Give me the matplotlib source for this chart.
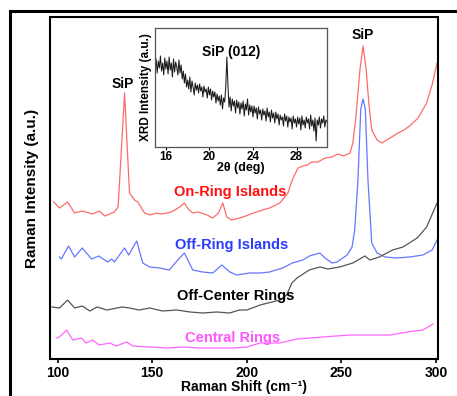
import numpy as np
import matplotlib
matplotlib.use('Agg')
import matplotlib.pyplot as plt
from matplotlib.patches import Rectangle

plt.rcParams['font.family'] = ['Liberation Sans', 'DejaVu Sans']
plt.rcParams['font.weight'] = 'bold'

##########
# Raman  #
##########

# On-Ring Islands (red)
x_on = [98, 101, 105.3, 109, 113, 118.5, 122, 125, 130, 132, 135.4, 138, 140.7, 142.3, 146,
        149, 152.4, 155, 157.7, 160, 162, 164.5, 167, 169, 171.4, 174, 176, 179, 182, 185,
        187.3, 189.4, 192, 198, 205, 212, 217.5, 221.7, 224, 227, 229.6, 232, 234.4, 237.6,
        241.3, 245, 248, 251, 254.5, 256, 257.5, 259.8, 261.4, 263, 264.5, 266, 268.8,
        271.4, 275.7, 279, 283, 286, 290.5, 295, 298, 300.5]
y_on = [157, 151, 157, 146, 148, 145, 148, 143, 147, 152, 266, 166, 159, 157, 146,
        144, 146, 145, 146, 147, 149, 152, 156, 150, 146, 147, 146, 144, 141, 146,
        156, 142, 139, 142, 147, 151, 156, 166, 179, 191, 193, 194, 197, 197,
        201, 202, 205, 203, 206, 216, 240, 290, 313, 290, 255, 229, 219,
        216, 221, 225, 229, 233, 241, 256, 275, 296]

# Off-Ring Islands (blue)
x_off = [101, 102, 105.8, 109, 113, 118, 121.7, 126.5, 128.6, 130, 135.4, 137.6, 141.8,
         145, 148.7, 154, 159, 163.5, 167, 171.4, 176.7, 182, 186.8, 191, 194.7, 201.6,
         207, 212, 219, 224, 229.6, 233, 238.6, 241.3, 245, 247.6, 253, 255.6, 257,
         258.7, 260.2, 261.4, 262.6, 264, 266, 268.8, 273, 279, 286, 293, 297.9, 300.5]
y_off = [102, 100, 113, 102, 111, 100, 103, 97, 100, 97, 111, 104, 118,
         96, 92, 91, 89, 99, 106, 89, 87, 86, 94, 87, 84, 86,
         86, 87, 91, 96, 99, 103, 106, 101, 96, 97, 104, 112, 129,
         179, 250, 260, 250, 179, 116, 106, 102, 101, 102, 104, 109, 119]

# Off-Center Rings (black)
x_oc = [97, 101, 105.3, 109, 113, 117, 121, 126, 134, 138, 143, 148.7, 155.5, 163, 170,
        176.7, 184, 191, 196, 200, 207, 217.5, 221, 223.8, 226.5, 233, 238.6, 242.8, 249,
        256, 262.4, 265, 270, 277, 282.5, 290, 295, 300.5]
y_oc = [52, 51, 59, 51, 53, 48, 52, 49, 52, 51, 49, 51, 48, 49, 47,
        46, 47, 46, 49, 49, 54, 59, 64, 76, 81, 89, 92, 90, 92,
        96, 103, 99, 102, 109, 112, 121, 132, 156]

# Central Rings (magenta)
x_cr = [99.5, 101, 104.8, 108, 112.7, 115, 118.5, 122, 127.5, 131, 136.5, 139.7, 148.7,
        157.7, 166, 175, 184, 192.6, 200, 207, 217.5, 226.5, 240, 254.5, 266.7, 275.7,
        284.7, 293, 298.4]
y_cr = [21, 22, 29, 19, 21, 16, 19, 14, 16, 13, 17, 13, 12,
        11, 12, 11, 11, 11, 12, 16, 16, 20, 22, 24, 24, 24,
        27, 29, 35]

##########
# XRD    #
##########

two_theta = np.arange(15.0, 30.85, 0.1)
xrd = [80, 88, 74, 86, 79, 91, 76, 84, 72, 89,
       78, 86, 73, 90, 77, 84, 70, 88, 75, 85,
       80, 72, 87, 74, 82, 68, 76, 64, 73, 60,
       67, 58, 70, 55, 66, 60, 52, 64, 57, 62,
       54, 63, 56, 60, 50, 61, 55, 58, 49, 60,
       52, 58, 47, 56, 50, 55, 44, 53, 46, 51,
       42, 52, 38, 49, 45, 60, 90, 62, 40, 50,
       36, 48, 41, 46, 34, 47, 39, 45, 33, 44,
       38, 46, 31, 43, 37, 48, 32, 42, 35, 41,
       30, 41, 34, 39, 28, 40, 33, 37, 27, 38,
       32, 36, 26, 39, 30, 35, 25, 37, 29, 34,
       24, 35, 28, 33, 22, 32, 27, 30, 21, 33,
       26, 31, 20, 30, 25, 29, 18, 31, 24, 28,
       20, 30, 23, 29, 17, 31, 22, 27, 19, 30,
       24, 28, 18, 32, 21, 27, 16, 29, 6, 27,
       22, 30, 19, 28, 24, 31, 20, 27, 25]

fig = plt.figure(figsize=(4.57, 3.96), dpi=100)

# outer frame
fig.patches.append(Rectangle((10/457., -0.05), 1.0, 1.05 - 11/396., transform=fig.transFigure,
                             fill=False, edgecolor='k', linewidth=2.2))

ax = fig.add_axes([50/457., 37/396., 388/457., 342/396.])
ax.plot(x_on, y_on, color='#ff6b6b', lw=0.9)
ax.plot(x_off, y_off, color='#6677ff', lw=0.9)
ax.plot(x_oc, y_oc, color='#555555', lw=0.9)
ax.plot(x_cr, y_cr, color='#ff66ff', lw=0.9)
ax.set_xlim([96, 301])
ax.set_ylim([0, 342])
ax.set_yticks([])
ax.set_xticks([100, 150, 200, 250, 300])
ax.tick_params('x', length=3, width=1.2, labelsize=10, pad=2)
for s in ax.spines.values():
  s.set_linewidth(1.5)
ax.set_xlabel('Raman Shift (cm\u207b\u00b9)', fontsize=10, fontweight='bold', labelpad=0)
ax.set_ylabel('Raman Intensity (a.u.)', fontsize=11, fontweight='bold', labelpad=8)

ax.text(134.4, 275, 'SiP', fontsize=10, fontweight='bold', ha='center', va='center')
ax.text(261.4, 324, 'SiP', fontsize=10, fontweight='bold', ha='center', va='center')
ax.text(191, 167, 'On-Ring Islands', color='#ff1010', fontsize=10.5, fontweight='bold', ha='center', va='center')
ax.text(192, 114, 'Off-Ring Islands', color='#2a3cff', fontsize=10.5, fontweight='bold', ha='center', va='center')
ax.text(194, 63, 'Off-Center Rings', color='k', fontsize=10.5, fontweight='bold', ha='center', va='center')
ax.text(192.6, 21, 'Central Rings', color='#ff55ff', fontsize=10.5, fontweight='bold', ha='center', va='center')

# inset
ins = fig.add_axes([155/457., 249/396., 172/457., 119/396.])
ins.plot(two_theta, xrd, color='#1a1a1a', lw=0.75)
ins.set_xlim([15, 30.8])
ins.set_ylim([0, 119])
ins.set_yticks([])
ins.set_xticks([16, 20, 24, 28])
ins.tick_params('x', length=2, width=0.8, labelsize=8.5, pad=1)
for s in ins.spines.values():
  s.set_linewidth(0.9)
  s.set_edgecolor('#555555')
ins.set_xlabel('2\u03b8 (deg)', fontsize=9, fontweight='bold', labelpad=-1)
ins.set_ylabel('XRD Intensity (a.u.)', fontsize=8.5, fontweight='bold', labelpad=2)
ins.text(22.0, 95, 'SiP (012)', fontsize=10, fontweight='bold', ha='center', va='center')

plt.savefig('out.png', dpi=100)
plt.close()
